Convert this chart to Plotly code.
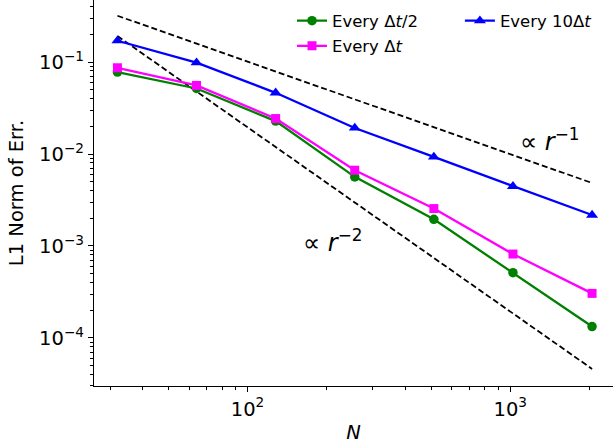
import plotly.graph_objects as go

N = [32, 64, 128, 256, 512, 1024, 2048]
err_half = [0.0778, 0.0516, 0.0228, 0.00564, 0.00195, 0.000512, 0.000133]
err_one = [0.0867, 0.0557, 0.0243, 0.00667, 0.00255, 0.000817, 0.000305]
err_ten = [0.1706, 0.0984, 0.0463, 0.0192, 0.00929, 0.00446, 0.00217]

ref_N = [32, 2048]
ref1 = [0.319, 0.00484]
ref2 = [0.192, 4.6e-5]

fig = go.Figure()
fig.add_trace(go.Scatter(x=ref_N, y=ref1, mode="lines", line=dict(color="black", width=1.8, dash="6px,3px"), showlegend=False))
fig.add_trace(go.Scatter(x=ref_N, y=ref2, mode="lines", line=dict(color="black", width=1.8, dash="6px,3px"), showlegend=False))
fig.add_trace(go.Scatter(x=N, y=err_half, mode="lines+markers", name="Every Δ<i>t</i>/2",
                         line=dict(color="#008000", width=2.3), marker=dict(symbol="circle", size=9.5, color="#008000"), legend="legend"))
fig.add_trace(go.Scatter(x=N, y=err_one, mode="lines+markers", name="Every Δ<i>t</i>",
                         line=dict(color="#ff00ff", width=2.3), marker=dict(symbol="square", size=9, color="#ff00ff"), legend="legend3"))
fig.add_trace(go.Scatter(x=N, y=err_ten, mode="lines+markers", name="Every 10Δ<i>t</i>",
                         line=dict(color="#0000ff", width=2.3), marker=dict(symbol="triangle-up", size=10.5, color="#0000ff"), legend="legend2"))

font = "DejaVu Sans"
xminor = [m * 10 ** k for k in [1, 2, 3] for m in range(2, 10)]
yminor = [m * 10 ** k for k in [-5, -4, -3, -2, -1] for m in range(2, 10)]

leg = dict(xanchor="left", yanchor="top", bgcolor="rgba(0,0,0,0)",
           font=dict(size=16.5, family=font), itemwidth=30)

fig.update_layout(
    width=613, height=444,
    margin=dict(l=94, r=0, t=0, b=58),
    paper_bgcolor="white", plot_bgcolor="white",
    font=dict(family=font, color="black", size=19),
    xaxis=dict(type="log", range=[1.416, 3.391], showgrid=False, zeroline=False,
               showline=True, linecolor="black", linewidth=1.2, mirror=False,
               tickvals=[100, 1000], ticktext=["10<sup>2</sup>", "10<sup>3</sup>"],
               ticks="outside", ticklen=5, tickwidth=1.1, tickcolor="black",
               tickfont=dict(size=19.5, family=font),
               minor=dict(tickvals=xminor, ticks="outside", ticklen=3, tickwidth=0.8, tickcolor="black"),
               title=dict(text="<i>N</i>", font=dict(size=19.5, family=font), standoff=6)),
    yaxis=dict(type="log", range=[-4.523, -0.325], showgrid=False, zeroline=False,
               showline=True, linecolor="black", linewidth=1.2, mirror=False,
               tickvals=[1e-4, 1e-3, 1e-2, 1e-1],
               ticktext=["10<sup>−4</sup>", "10<sup>−3</sup>", "10<sup>−2</sup>", "10<sup>−1</sup>"],
               ticks="outside", ticklen=5, tickwidth=1.1, tickcolor="black",
               tickfont=dict(size=19.5, family=font),
               minor=dict(tickvals=yminor, ticks="outside", ticklen=3, tickwidth=0.8, tickcolor="black"),
               title=dict(text="L1 Norm of Err.", font=dict(size=19.5, family=font), standoff=10)),
    legend=dict(x=0.3815, y=0.991, **leg),
    legend3=dict(x=0.3815, y=0.926, **leg),
    legend2=dict(x=0.705, y=0.991, **leg),
    annotations=[
        dict(x=3.151, y=-1.85, xref="x", yref="y", text="∝ <i>r</i><sup>−1</sup>", showarrow=False,
             font=dict(size=24, family=font)),
        dict(x=2.325, y=-2.95, xref="x", yref="y", text="∝ <i>r</i><sup>−2</sup>", showarrow=False,
             font=dict(size=24, family=font)),
    ],
)

fig.write_html("out.html")
